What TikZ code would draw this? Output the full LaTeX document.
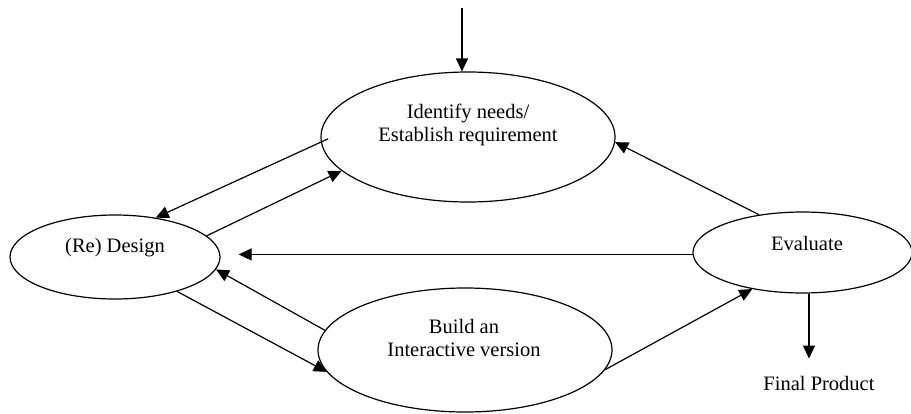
\documentclass[tikz,border=0pt]{standalone}
\usepackage{fontspec}
\setmainfont{Liberation Serif}
\usetikzlibrary{shapes.geometric,arrows.meta}

\tikzset{
  stage/.style={draw=black, line width=1.2pt, ellipse, inner sep=0pt, fill=white},
  caption/.style={font=\fontsize{20.5}{22.5}\selectfont, align=center, inner sep=0pt, text=black},
  flow/.style={draw=black, line width=1.2pt, -{Triangle[length=13pt,width=12pt]}}
}

\begin{document}
\begin{tikzpicture}[x=1pt, y=-1pt]
  \useasboundingbox (0,0) rectangle (911,413);

  % stages of the cycle
  \node[stage, minimum width=294pt, minimum height=130pt] (ident)  at (468,137) {};
  \node[stage, minimum width=210pt, minimum height=84pt]  (design) at (115,257) {};
  \node[stage, minimum width=294pt, minimum height=124pt] (build)  at (465,350) {};
  \node[stage, minimum width=219pt, minimum height=81pt]  (eval)   at (802.5,252.5) {};

  % stage captions
  \node[caption] (identtxt)  at (468,125) {Identify needs/\\Establish requirement};
  \node[caption] (designtxt) at (115,248) {(Re) Design};
  \node[caption] (buildtxt)  at (464,338) {Build an\\Interactive version};
  \node[caption] (evaltxt)   at (807,243) {Evaluate};
  \node[caption, anchor=base] (final) at (819,390) {Final Product};

  % entry point
  \coordinate (start) at (462,8);
  \draw[flow] (start) -- (start |- ident.north);

  % connections between stages
  \draw[flow, shorten <=-8pt] (ident.182) -- (design.44);
  \draw[flow] (design.13) -- (ident.195);
  \draw[flow] (eval.139) -- (ident.358);
  \draw[flow, shorten >=18pt] (eval.181) -- (design.east |- eval.181);
  \draw[flow] (build.172) -- (design.353);
  \draw[flow] (design.331) -- (build.189);
  \draw[flow] (build.352) -- (eval.216);

  % exit
  \draw[flow, shorten >=17pt] (eval.279) -- (eval.279 |- final.north);
\end{tikzpicture}
\end{document}
